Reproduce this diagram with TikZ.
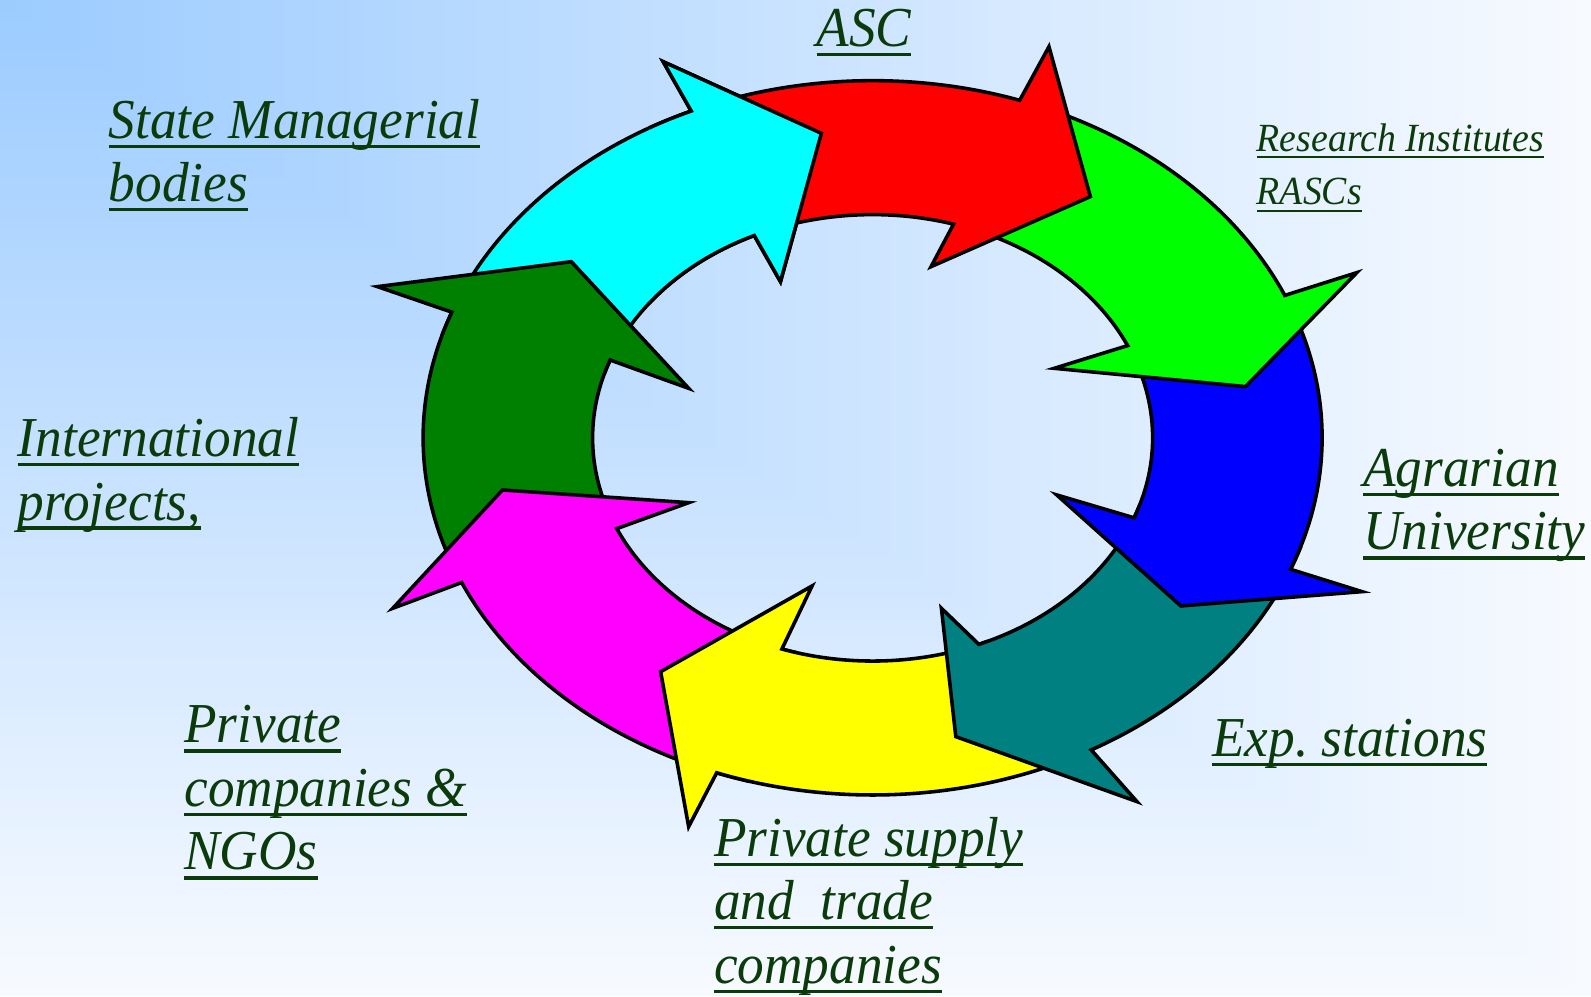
\documentclass[tikz,border=0pt]{standalone}
\usepackage{fontspec}
\setmainfont{Liberation Serif}[FakeStretch=0.945]
\definecolor{bgtop}{HTML}{9BCBFF}
\definecolor{bgend}{HTML}{F7FAFF}
\definecolor{lblgreen}{HTML}{0B3B0B}
\definecolor{ringcyan}{RGB}{0,255,255}
\definecolor{ringred}{RGB}{255,0,0}
\definecolor{ringgreen}{RGB}{0,255,0}
\definecolor{ringblue}{RGB}{0,0,255}
\definecolor{ringteal}{RGB}{0,128,128}
\definecolor{ringyellow}{RGB}{255,255,0}
\definecolor{ringmagenta}{RGB}{255,0,255}
\definecolor{ringdark}{RGB}{0,128,0}

% underlined label line
\newcommand{\ulk}[1]{\leavevmode\setbox0=\hbox{#1}\rlap{\rule[-0.17em]{\wd0}{0.055em}}\box0}

% one curved arrow of the ring:
% colour, tail angle, outer head angle, inner head angle, outer barb, tip, inner barb
\newcommand{\ringarrow}[7]{%
  \filldraw[ringpart,fill=#1] ([shift={(#2:443 and 352)}]ctr)
    arc[start angle=#2,end angle=#3,x radius=443,y radius=352]
    -- #5 -- #6 -- #7 -- ([shift={(#4:276 and 220)}]ctr)
    arc[start angle=#4,end angle=#2,x radius=276,y radius=220] -- cycle;}

\begin{document}
\begin{tikzpicture}[x=0.01cm,y=-0.01cm,
 ringpart/.style={draw=black,line width=1pt,line join=miter},
 lbl/.style={anchor=base west,inner sep=0pt,align=left,text=lblgreen,
   font=\itshape\fontsize{15.8pt}{17.8pt}\selectfont},
 lblsmall/.style={lbl,font=\itshape\fontsize{11.2pt}{15.1pt}\selectfont}]
\useasboundingbox (0,0) rectangle (1568,982);
% corner gradient of the slide
\foreach \k in {100,99,...,1}
  \fill[bgend!\k!bgtop] (0,0) rectangle (15.68*\k,9.82*\k);
\coordinate (ctr) at (860,431.5);

% ring of arrows, each head laid over the tail of the next one
\ringarrow{ringcyan}{197}{246.2}{245}{(653.6,60.8)}{(809.5,131.4)}{(769.2,277.6)}
\ringarrow{ringdark}{160}{200.6}{200.4}{(372,282.5)}{(563.1,257.9)}{(678.7,382.7)}
\ringarrow{ringmagenta}{106}{156.1}{156}{(387.1,599.5)}{(495.2,482.9)}{(678.7,495.4)}
\ringarrow{ringyellow}{66}{110.3}{108.9}{(678.7,814.7)}{(651.1,662)}{(800.3,577.5)}
\ringarrow{ringteal}{18}{60.9}{67.7}{(1120.5,790)}{(942,726)}{(927.8,599.5)}
\ringarrow{ringblue}{-20}{21.6}{21}{(1342.3,583.1)}{(1163.8,597.2)}{(1041.5,487.8)}
\ringarrow{ringgreen}{-67}{-23.5}{-24.4}{(1337.2,268.7)}{(1227.5,381)}{(1039,363)}
\ringarrow{ringred}{-110}{-70.9}{-73.2}{(1033.8,46)}{(1074.6,193.8)}{(917.6,262.8)}
% cyan head once more, over the red tail
\begin{scope}
\clip (640,0) rectangle (900,300);
\ringarrow{ringcyan}{197}{246.2}{245}{(653.6,60.8)}{(809.5,131.4)}{(769.2,277.6)}
\end{scope}

% labels (placed at the baseline of their last line)
\node[lbl] (asc) at (804,46) {\ulk{ASC}};
\node[lbl] (state) at (106.6,198.8) {\ulk{State Managerial}\\\ulk{bodies}};
\node[lblsmall] (inst) at (1238,202) {\ulk{Research Institutes}\\\ulk{RASCs}};
\node[lbl] (univ) at (1343,542) {\ulk{Agrarian}\\\ulk{University}};
\node[lbl] (intl) at (17,512.5) {\ulk{International}\\\ulk{projects,}};
\node[lbl] (expst) at (1194,745.7) {\ulk{Exp.\ stations}};
\node[lbl] (priv) at (181,857.4) {\ulk{Private}\\\ulk{companies \&}\\\ulk{NGOs}};
\node[lbl] (supply) at (703,969) {\ulk{Private supply}\\\ulk{and\ \ trade}\\\ulk{companies}};
\end{tikzpicture}
\end{document}
